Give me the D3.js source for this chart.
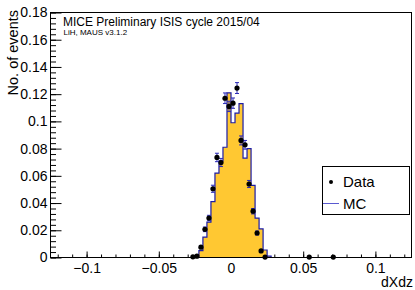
<html>
<head>
  <title></title>
  <script src="https://d3js.org/d3.v7.min.js"></script>
  <style type="text/css">
  body {
    margin: 0;
    background: #fff;
  }

  text {
    font-family: "Liberation Sans", Arial, Helvetica, sans-serif;
  }
  </style>
</head>
<body>
  <div id="viz"></div>

<script type="text/javascript">

const WIDTH = 415;
const HEIGHT = 290;

// histogram binning (dXdz), bin centres of the filled bins
const binWidth = 0.0027778;
const binCenters = [
  -0.02639, -0.02361, -0.02083, -0.01806, -0.01528, -0.0125, -0.00972, -0.00694, -0.00417, -0.00139,
  0.00139, 0.00417, 0.00694, 0.00972, 0.0125, 0.01528, 0.01806, 0.02083, 0.02361, 0.02639
];

// MC (normalised), one value per bin centre
const mcValues = [
  0, 0.001, 0.005, 0.015, 0.026, 0.041, 0.062, 0.071, 0.081, 0.121,
  0.099, 0.106, 0.113, 0.073, 0.080, 0.053, 0.029, 0.021, 0.0055, 0.001
];

// data points
const dataX = [
  -0.02639, -0.02361, -0.02083, -0.01806, -0.01528, -0.0125, -0.00972, -0.00694, -0.00417, -0.00139,
  0.00139, 0.00417, 0.00694, 0.00972, 0.0125, 0.01528, 0.01806, 0.02083, 0.02361, 0.05417, 0.07083
];
const dataValues = [
  0.0005, 0.001, 0.0076, 0.0207, 0.029, 0.0505, 0.0735, 0.0698, 0.117, 0.111,
  0.1134, 0.1245, 0.086, 0.0828, 0.054, 0.034, 0.018, 0.0048, 0.0003, 0.0003, 0.0003
];
const dataErrors = [
  0.0004, 0.0005, 0.001, 0.0017, 0.002, 0.0026, 0.0031, 0.003, 0.0039, 0.0038,
  0.0038, 0.004, 0.0033, 0.0032, 0.0026, 0.002, 0.0015, 0.0008, 0.0003, 0.0003, 0.0003
];

const xTicks = [-0.1, -0.05, 0, 0.05, 0.1];
const xTickLabels = ["\u22120.1", "\u22120.05", "0", "0.05", "0.1"];
const yTicks = [0, 0.02, 0.04, 0.06, 0.08, 0.1, 0.12, 0.14, 0.16, 0.18];
const yTickLabels = ["0", "0.02", "0.04", "0.06", "0.08", "0.1", "0.12", "0.14", "0.16", "0.18"];

const fillColor = "#ffc832";
const lineColor = "#1c1ca8";

let svg = d3.select("#viz")
  .append("svg")
  .attr("width", WIDTH)
  .attr("height", HEIGHT)
  .style("display", "block")
  .style("background-color", "#fff");

let x = d3.scaleLinear()
  .domain([-0.125, 0.125])
  .range([50.5, 411.5]);

let y = d3.scaleLinear()
  .domain([0, 0.18])
  .range([257.5, 12.5]);

// axes (ticks drawn inside the frame, ROOT style)
let xMinor = d3.range(-0.12, 0.1201, 0.01);
let yMinor = d3.range(0, 0.1801, 0.004);

svg.append("g")
  .attr("transform", "translate(0,257.5)")
  .call(d3.axisBottom(x).tickValues(xMinor).tickSizeInner(-3).tickSizeOuter(0).tickFormat(""))
  .call(g => g.select(".domain").remove());

svg.append("g")
  .attr("transform", "translate(0,257.5)")
  .call(d3.axisBottom(x).tickValues(xTicks).tickSizeInner(-6).tickSizeOuter(0)
    .tickPadding(5.5).tickFormat((d, i) => xTickLabels[i]))
  .call(g => g.select(".domain").remove())
  .selectAll("text")
  .style("font-size", "14px")
  .attr("fill", "#000");

svg.append("g")
  .attr("transform", "translate(50.5,0)")
  .call(d3.axisLeft(y).tickValues(yMinor).tickSizeInner(-5.5).tickSizeOuter(0).tickFormat(""))
  .call(g => g.select(".domain").remove());

svg.append("g")
  .attr("transform", "translate(50.5,0)")
  .call(d3.axisLeft(y).tickValues(yTicks).tickSizeInner(-11).tickSizeOuter(0)
    .tickPadding(3).tickFormat((d, i) => yTickLabels[i]))
  .call(g => g.select(".domain").remove())
  .selectAll("text")
  .style("font-size", "14px")
  .attr("fill", "#000");

svg.selectAll(".tick line").attr("stroke", "#000");

// MC histogram
let steps = [[x.domain()[0], 0]]
  .concat(binCenters.map((c, i) => [c - binWidth/2, mcValues[i]]))
  .concat([[binCenters[binCenters.length - 1] + binWidth/2, 0], [x.domain()[1], 0]]);

svg.append("path")
  .datum(steps)
  .attr("fill", fillColor)
  .attr("d", d3.area().curve(d3.curveStepAfter)
    .x(d => x(d[0]))
    .y0(y(0))
    .y1(d => y(d[1])));

svg.append("path")
  .datum(steps)
  .attr("fill", "none")
  .attr("stroke", lineColor)
  .attr("stroke-width", 1.2)
  .attr("d", d3.line().curve(d3.curveStepAfter)
    .x(d => x(d[0]))
    .y(d => y(d[1])));

// frame
svg.append("rect")
  .attr("x", 50.5)
  .attr("y", 12.5)
  .attr("width", 361)
  .attr("height", 245)
  .attr("fill", "none")
  .attr("stroke", "#000")
  .attr("stroke-width", 1);

// data with error bars
let points = dataX.map((d, i) => ({x: d, v: dataValues[i], e: dataErrors[i]}));

let bars = svg.selectAll(".err")
  .data(points)
  .enter().append("g")
  .attr("class", "err")
  .attr("stroke", "#2a2ab8")
  .attr("stroke-width", 1);

bars.append("line")
  .attr("x1", d => x(d.x))
  .attr("x2", d => x(d.x))
  .attr("y1", d => y(d.v - d.e))
  .attr("y2", d => y(d.v + d.e));

bars.append("line")
  .attr("x1", d => x(d.x) - 2)
  .attr("x2", d => x(d.x) + 2)
  .attr("y1", d => y(d.v + d.e))
  .attr("y2", d => y(d.v + d.e));

bars.append("line")
  .attr("x1", d => x(d.x) - 2)
  .attr("x2", d => x(d.x) + 2)
  .attr("y1", d => y(d.v - d.e))
  .attr("y2", d => y(d.v - d.e));

svg.selectAll(".point")
  .data(points)
  .enter().append("circle")
  .attr("class", "point")
  .attr("cx", d => x(d.x))
  .attr("cy", d => y(d.v))
  .attr("r", 2.6)
  .attr("fill", "#000");

// titles
svg.append("text")
  .attr("x", 413)
  .attr("y", 287)
  .attr("text-anchor", "end")
  .style("font-size", "14px")
  .text("dXdz");

svg.append("text")
  .attr("transform", "translate(18,10) rotate(-90)")
  .attr("text-anchor", "end")
  .style("font-size", "14.5px")
  .text("No. of events");

svg.append("text")
  .attr("x", 63)
  .attr("y", 26)
  .style("font-size", "12px")
  .text("MICE Preliminary ISIS cycle 2015/04");

svg.append("text")
  .attr("x", 63.5)
  .attr("y", 35)
  .style("font-size", "8px")
  .text("LiH, MAUS v3.1.2");

// legend
let legend = svg.append("g");

legend.append("rect")
  .attr("x", 322.5)
  .attr("y", 166.5)
  .attr("width", 87)
  .attr("height", 48)
  .attr("fill", "#fff")
  .attr("stroke", "#000");

legend.append("circle")
  .attr("cx", 331)
  .attr("cy", 182)
  .attr("r", 2)
  .attr("fill", "#000");

legend.append("text")
  .attr("x", 343)
  .attr("y", 187)
  .style("font-size", "15px")
  .text("Data");

legend.append("line")
  .attr("x1", 323)
  .attr("x2", 339)
  .attr("y1", 203.5)
  .attr("y2", 203.5)
  .attr("stroke", "#5a5ad0")
  .attr("stroke-width", 1);

legend.append("text")
  .attr("x", 343)
  .attr("y", 209)
  .style("font-size", "15px")
  .text("MC");

</script>
</body>
</html>
